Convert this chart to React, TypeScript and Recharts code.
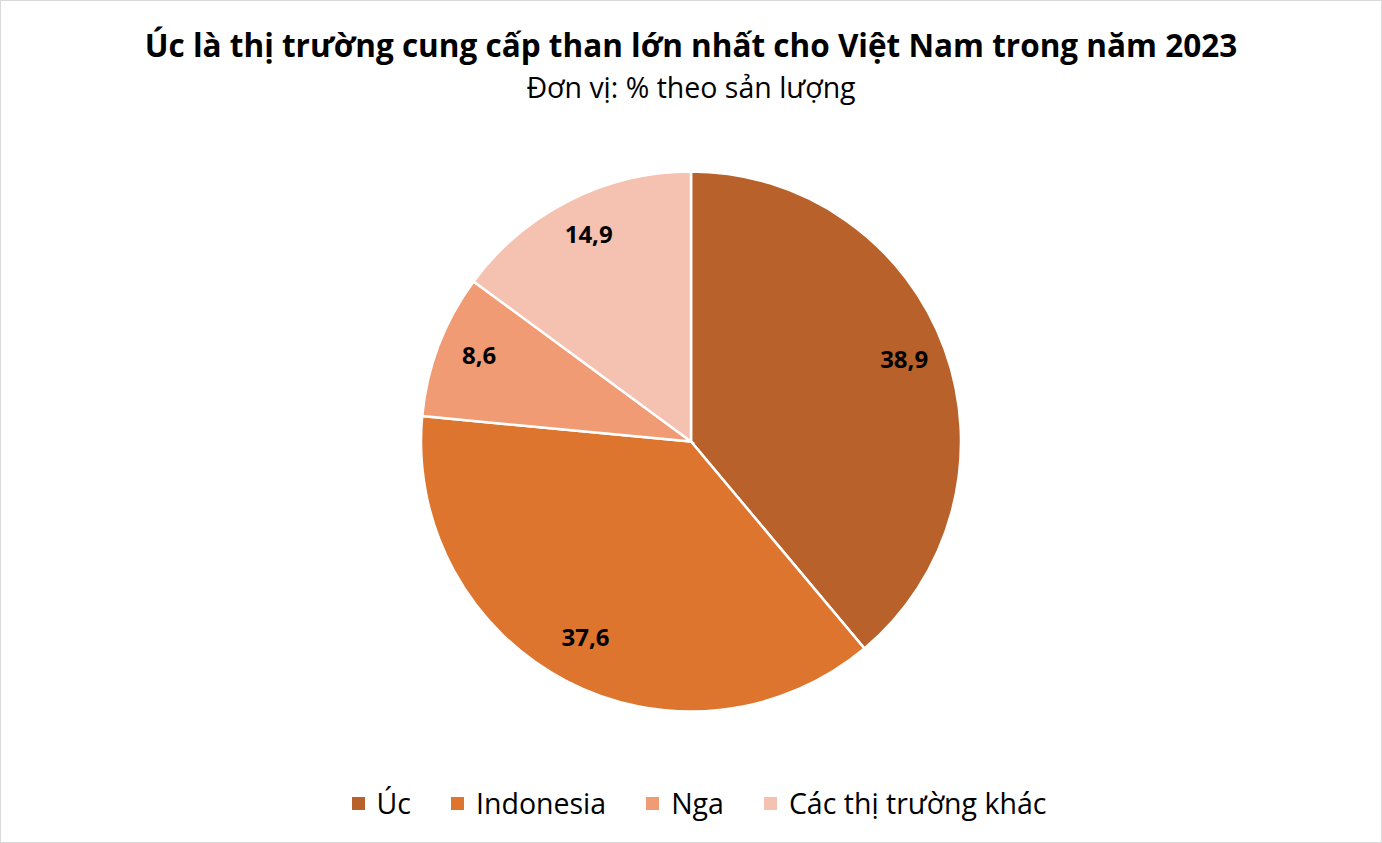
import React from "react";
import { PieChart, Pie, Cell, Legend } from "recharts";

const categories = ["Úc", "Indonesia", "Nga", "Các thị trường khác"];
const shares = [38.9, 37.6, 8.6, 14.9];
const valueLabels = ["38,9", "37,6", "8,6", "14,9"];
const colors = ["#B8612A", "#DE752E", "#F09B74", "#F5C2B1"];

const data = categories.map((name, i) => ({ name, value: shares[i], label: valueLabels[i] }));

const FONT = "'Open Sans', 'Noto Sans', sans-serif";
const RAD = Math.PI / 180;

const renderLabel = (props: any) => {
  const { cx, cy, midAngle, outerRadius, index } = props;
  const r = outerRadius * 0.84;
  const x = cx + r * Math.cos(-midAngle * RAD);
  const y = cy + r * Math.sin(-midAngle * RAD);
  return (
    <text x={x} y={y - 6} textAnchor="middle" dominantBaseline="central" fontFamily={FONT} fontWeight={700} fontSize={24} fill="#000">
      {data[index].label}
    </text>
  );
};

const renderLegend = () => {
  return (
    <div style={{ display: "flex", justifyContent: "center", alignItems: "center", fontFamily: FONT, fontSize: 28.5, color: "#000", paddingLeft: 16 }}>
      {data.map((entry, i) => (
        <div key={i} style={{ display: "flex", alignItems: "center", marginRight: i < data.length - 1 ? 40 : 0 }}>
          <span style={{ display: "inline-block", width: 13, height: 13, background: colors[i], marginRight: 12 }} />
          <span>{entry.name}</span>
        </div>
      ))}
    </div>
  );
};

export default function App() {
  return (
    <div style={{ position: "absolute", left: 0, top: 0, width: 1382, height: 843, background: "#fff", boxSizing: "border-box", border: "1px solid #d9d9d9" }}>
      <div style={{ position: "absolute", left: 0, top: 24, width: 1380, textAlign: "center", fontFamily: FONT, fontWeight: 700, fontSize: 31.5, lineHeight: "40px", color: "#000" }}>
        Úc là thị trường cung cấp than lớn nhất cho Việt Nam trong năm 2023
      </div>
      <div style={{ position: "absolute", left: 0, top: 67, width: 1380, textAlign: "center", fontFamily: FONT, fontSize: 28.5, lineHeight: "38px", color: "#000" }}>
        Đơn vị: % theo sản lượng
      </div>
      <div style={{ position: "absolute", left: 0, top: 0 }}>
        <PieChart width={1380} height={841}>
          <Pie
            data={data}
            dataKey="value"
            nameKey="name"
            cx={685}
            cy={435.5}
            outerRadius={270}
            startAngle={90}
            endAngle={-270}
            stroke="#fff"
            strokeWidth={2.5}
            label={renderLabel}
            labelLine={false}
            isAnimationActive={false}
          >
            {data.map((d, i) => (
              <Cell key={d.name} fill={colors[i]} />
            ))}
          </Pie>
          <Legend content={renderLegend} verticalAlign="bottom" wrapperStyle={{ bottom: 20 }} />
        </PieChart>
      </div>
    </div>
  );
}
